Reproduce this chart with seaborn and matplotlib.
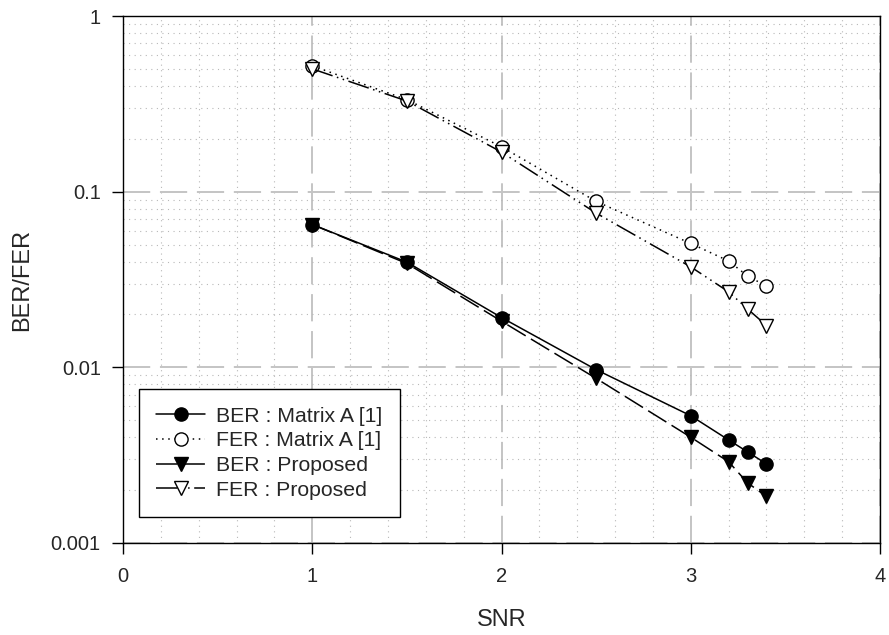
import numpy as np
import pandas as pd
import matplotlib
matplotlib.use("Agg")
import matplotlib.pyplot as plt
import seaborn as sns
from matplotlib.ticker import FixedLocator, FuncFormatter, MultipleLocator, LogLocator, NullFormatter

snr = [1, 1.5, 2, 2.5, 3, 3.2, 3.3, 3.4]
ber_matrix_a = [0.065, 0.0397, 0.0192, 0.0097, 0.00530, 0.00386, 0.00330, 0.00282]
fer_matrix_a = [0.52, 0.334, 0.180, 0.088, 0.0507, 0.0403, 0.0331, 0.0290]
ber_proposed = [0.065, 0.0390, 0.0183, 0.00865, 0.00400, 0.00290, 0.00220, 0.00184]
fer_proposed = [0.50, 0.328, 0.168, 0.0755, 0.0373, 0.0269, 0.0215, 0.0173]

labels = ["BER : Matrix A [1]", "FER : Matrix A [1]", "BER : Proposed", "FER : Proposed"]
series = [ber_matrix_a, fer_matrix_a, ber_proposed, fer_proposed]

sns.set_style("white")
plt.rcParams['font.family'] = ['Liberation Sans', 'DejaVu Sans']

fig = plt.figure(figsize=(8.89, 6.35), dpi=100)
ax = fig.add_axes([0.1384, 0.1449, 0.8515, 0.8299])

styles = [
    dict(marker='o', linestyle='-', markerfacecolor='black'),
    dict(marker='o', linestyle=(0, (1, 3)), markerfacecolor='white'),
    dict(marker='v', linestyle=(0, (14, 4)), markerfacecolor='black'),
    dict(marker='v', linestyle=(0, (14, 3, 1, 3, 1, 3)), markerfacecolor='white'),
]

for lab, vals, st in zip(labels, series, styles):
    df = pd.DataFrame({"SNR": snr, "val": vals})
    sns.lineplot(data=df, x="SNR", y="val", ax=ax, color='black', linewidth=1.1,
                 marker=st['marker'], linestyle=st['linestyle'],
                 markerfacecolor=st['markerfacecolor'], markeredgecolor='black',
                 markeredgewidth=1.0, markersize=9.5, label=lab, zorder=3)

ax.set_yscale('log')
ax.set_xlim(0, 4)
ax.set_ylim(0.001, 1)
ax.xaxis.set_major_locator(MultipleLocator(1))
ax.xaxis.set_minor_locator(MultipleLocator(0.2))
ax.yaxis.set_major_locator(FixedLocator([0.001, 0.01, 0.1, 1]))
ax.yaxis.set_minor_locator(LogLocator(base=10, subs=np.arange(2, 10)))
ax.yaxis.set_minor_formatter(NullFormatter())
ax.yaxis.set_major_formatter(FuncFormatter(lambda v, p: {0.001: "0.001", 0.01: "0.01", 0.1: "0.1", 1: "1"}.get(round(v, 3), "")))
ax.xaxis.set_major_formatter(FuncFormatter(lambda v, p: f"{int(round(v))}"))

ax.grid(which='major', color='#c4c4c4', linestyle=(0, (14, 5)), linewidth=1.4, zorder=0)
ax.grid(which='minor', color='#b8b8b8', linestyle=(0, (1, 4)), linewidth=0.8, zorder=0)
ax.set_axisbelow(True)

ax.tick_params(axis='both', which='major', direction='out', length=8, width=1,
               color='black', labelsize=14.5, bottom=True, left=True)
ax.tick_params(axis='x', which='major', pad=9.5)
ax.tick_params(axis='y', which='major', pad=8)
ax.tick_params(axis='both', which='minor', length=0)
for s in ax.spines.values():
    s.set_color('black')
    s.set_linewidth(1.0)

ax.set_xlabel("SNR", fontsize=17, labelpad=16)
ax.set_ylabel("BER/FER", fontsize=17, labelpad=13)

leg = ax.legend(loc='lower left', bbox_to_anchor=(0.021, 0.049), fontsize=15.3,
                frameon=True, fancybox=False, edgecolor='black', framealpha=1,
                handlelength=2.3, borderpad=0.82, labelspacing=0.27, handletextpad=0.5,
                borderaxespad=0)
leg.get_frame().set_linewidth(1.0)

fig.savefig("out.png", dpi=100)
